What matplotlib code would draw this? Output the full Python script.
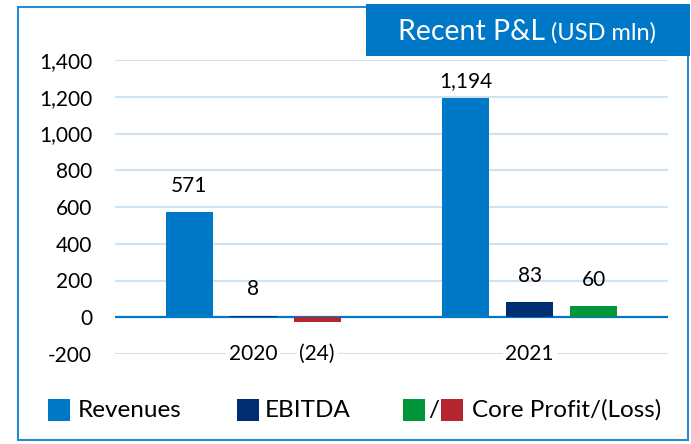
import matplotlib
matplotlib.use("Agg")
import matplotlib.pyplot as plt
from matplotlib.patches import Rectangle
import numpy as np

plt.rcParams['font.family'] = ['Lato', 'DejaVu Sans']

years = ['2020', '2021']
revenues = [571, 1194]
ebitda = [8, 83]
core = [-24, 60]
yticks = [-200, 0, 200, 400, 600, 800, 1000, 1200, 1400]

c_rev = '#0078c8'
c_ebitda = '#002d72'
c_green = '#009639'
c_red = '#b4252e'
c_grid = '#cfe3f3'

fs = 15
fig = plt.figure(figsize=(6.91, 4.44), dpi=100)
# outer border
fig.patches.append(Rectangle((18/691, 1-440/444), (688-18)/691, (440-7)/444,
                             transform=fig.transFigure, fill=False,
                             edgecolor='#2a8ad0', linewidth=1.5))
# title box
fig.patches.append(Rectangle((366/691, 1-56/444), (690-366)/691, (56-4)/444,
                             transform=fig.transFigure, facecolor='#0078c8',
                             edgecolor='none'))
fig.text(545/691, 1-32/444, 'Recent P&L', color='white', fontsize=20.5,
         ha='right', va='center')
fig.text(551/691, 1-33/444, '(USD mln)', color='white', fontsize=17,
         ha='left', va='center')

ax = fig.add_axes([115/691, 1-354/444, (668-115)/691, (354-60)/444])
ax.set_xlim(-0.5, 1.5)
ax.set_ylim(-200, 1400)
x = np.arange(len(years))
off = 0.231
w = 0.17
ax.bar(x - off, revenues, w, color=c_rev, zorder=3)
ax.bar(x, ebitda, w, color=c_ebitda, zorder=3)
ax.bar(x + off, core, w, color=[c_green if v >= 0 else c_red for v in core], zorder=3)

for v in yticks:
    if v == 0:
        ax.axhline(0, color='#0078c8', lw=1.6, zorder=2.5)
    else:
        ax.axhline(v, color=c_grid, lw=1.5, zorder=1)

def fmt(v):
    return f'({abs(v):,})' if v < 0 else f'{v:,}'

for i in range(len(years)):
    for xo, v in ((-off, revenues[i]), (0, ebitda[i]), (off, core[i])):
        if v >= 0:
            ax.annotate(fmt(v), (i + xo, min(v, 1140)), xytext=(0, 19),
                        textcoords='offset points', ha='center', va='center',
                        fontsize=fs, zorder=5)
        else:
            ax.text(i + xo, -200, fmt(v), ha='center', va='center', fontsize=fs, zorder=5,
                    bbox=dict(facecolor='white', edgecolor='none', pad=2))
    ax.text(i, -200, years[i], ha='center', va='center', fontsize=fs, zorder=5,
            bbox=dict(facecolor='white', edgecolor='none', pad=2))

ax.set_yticks(yticks)
ax.set_yticklabels([f'{v:,}' for v in yticks], fontsize=fs)
ax.tick_params(axis='y', length=0, pad=16.5)
ax.set_xticks([])
for s in ax.spines.values():
    s.set_visible(False)

# legend
lfs = 17.5
ly = 1 - 410/444
sq_w, sq_h = 22/691, 22/444
def sq(x0, col):
    fig.patches.append(Rectangle((x0/691, ly - sq_h/2), sq_w, sq_h,
                                 transform=fig.transFigure, facecolor=col, edgecolor='none'))
sq(48, c_rev)
fig.text(78/691, ly, 'Revenues', fontsize=lfs, va='center')
sq(237, c_ebitda)
fig.text(265/691, ly, 'EBITDA', fontsize=lfs, va='center')
sq(403, c_green)
fig.text(428/691, ly, '/', fontsize=lfs, va='center')
sq(441, c_red)
fig.text(472/691, ly, 'Core Profit/(Loss)', fontsize=lfs, va='center')

fig.savefig('out.png', dpi=100)
